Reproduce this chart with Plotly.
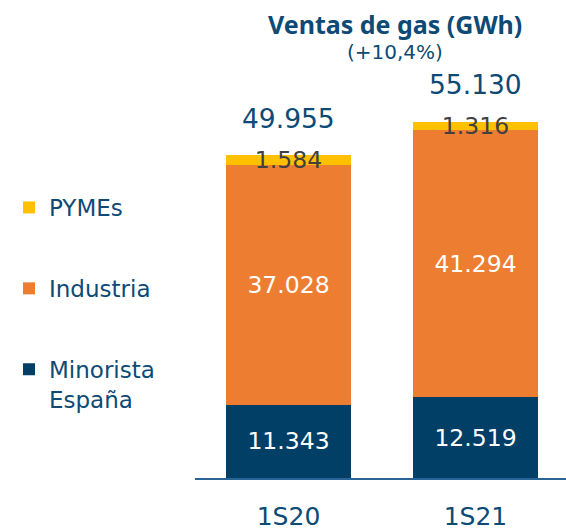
import plotly.graph_objects as go

categories = ["1S20", "1S21"]
minorista = [11343, 12519]
industria = [37028, 41294]
pymes = [1584, 1316]
totals = [49955, 55130]
title = "Ventas de gas (GWh)"
subtitle = "(+10,4%)"

def fmt(v):
    return f"{v:,}".replace(",", ".")

NAVY = "#023f66"
TXT = "#0d4a75"
ORANGE = "#ed7d31"
YELLOW = "#ffc000"
FONT = "DejaVu Sans"
TFONT = "Noto Sans"

fig = go.Figure()
fig.add_bar(x=categories, y=minorista, name="Minorista<br>España", marker_color=NAVY,
            text=[fmt(v) for v in minorista], textposition="inside", insidetextanchor="middle",
            textfont=dict(color="white", size=23.5, family=FONT), legendgroup="c", legendrank=3)
fig.add_bar(x=categories, y=industria, name="Industria", marker_color=ORANGE,
            text=[fmt(v) for v in industria], textposition="inside", insidetextanchor="middle",
            textfont=dict(color="white", size=23.5, family=FONT), legendgroup="b", legendrank=2)
fig.add_bar(x=categories, y=pymes, name="PYMEs", marker_color=YELLOW,
            text=[fmt(v) for v in pymes], textposition="inside", insidetextanchor="middle",
            constraintext="none",
            textfont=dict(color="#404040", size=23.5, family=FONT), legendgroup="a", legendrank=1,
            cliponaxis=False)
fig.update_traces(selector=dict(type="bar"), marker_line_width=0)

for c, t in zip(categories, totals):
    fig.add_annotation(x=c, y=t, xref="x", yref="y", text=fmt(t), showarrow=False,
                       yanchor="middle", yshift=37,
                       font=dict(size=26.5, color=TXT, family=FONT))

L, R, T, B = 195, 0, 53, 53
W, H = 566, 531
pw, ph = W - L - R, H - T - B

def px2paper(px, py):
    return (px - L) / pw, 1 - (py - T) / ph

tx, ty = px2paper(395, 24)
fig.add_annotation(x=tx, y=ty, xref="paper", yref="paper", text=f"<b>{title}</b>",
                   showarrow=False, xanchor="center", yanchor="middle",
                   font=dict(size=25, color=TXT, family=TFONT))
sx, sy = px2paper(395, 52)
fig.add_annotation(x=sx, y=sy, xref="paper", yref="paper", text=subtitle,
                   showarrow=False, xanchor="center", yanchor="middle",
                   font=dict(size=20, color=TXT, family=FONT))

lx, ly = px2paper(9, 186)
fig.update_layout(
    width=W, height=H, barmode="stack", bargap=0.33,
    margin=dict(l=L, r=R, t=T, b=B, autoexpand=False),
    plot_bgcolor="white", paper_bgcolor="white",
    font=dict(family=FONT, color=TXT),
    legend=dict(x=lx, xanchor="left", y=ly, yanchor="top",
                traceorder="grouped", tracegroupgap=48, valign="top",
                font=dict(size=23, color=TXT, family=FONT), bgcolor="rgba(0,0,0,0)"),
    xaxis=dict(range=[-0.5, 1.484], showline=True, linecolor="#2a6496", linewidth=2,
               ticks="", tickfont=dict(size=25, color=TXT, family=FONT), ticklabelstandoff=15,
               automargin=False, fixedrange=True),
    yaxis=dict(range=[0, 65730], visible=False, showgrid=False, zeroline=False, automargin=False),
)

fig.write_html("out.html", config={"displayModeBar": False},
               post_script="document.body.style.margin='0px';document.body.style.overflow='hidden';")
